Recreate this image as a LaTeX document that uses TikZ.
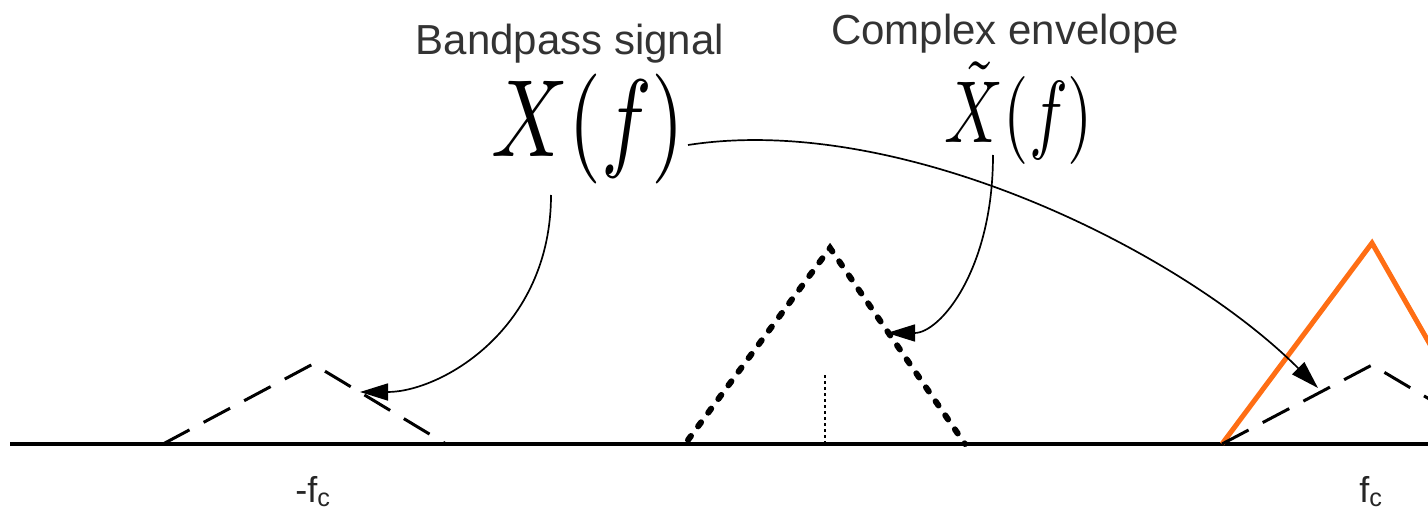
\documentclass[tikz,border=0pt]{standalone}
\usepackage{fontspec}
\setsansfont{Liberation Sans}
\usetikzlibrary{arrows.meta}
\definecolor{sigorange}{RGB}{255,110,20}
\tikzset{
  lbl/.style={font=\sffamily\fontsize{42}{48}\selectfont, text=black!80, inner sep=0pt, anchor=base},
  axlbl/.style={font=\sffamily\fontsize{36}{42}\selectfont, text=black!85, inner sep=0pt, anchor=base},
  mathlbl/.style={inner sep=0pt, anchor=base},
  conn/.style={line width=1.7pt, -{Triangle[length=28pt,width=17pt]}},
  axis/.style={line width=3.5pt},
  bpsig/.style={line width=3pt, dash pattern=on 30pt off 16pt},
  envsig/.style={line width=6pt, line cap=round, dash pattern=on 5pt off 12pt},
  carrier/.style={line width=5pt, sigorange},
}
\begin{document}
\begin{tikzpicture}[x=1pt,y=-1pt]
\useasboundingbox (0,0) rectangle (1428,516);
\begin{scope}
\clip (0,0) rectangle (1428,516);
% axis
\draw[axis] (10,444) -- (1428,444);
% left bandpass replica
\draw[bpsig] (163,444) -- (313,364) -- (446,444);
% complex envelope
\draw[envsig] (688,440) -- (830,248) -- (965,444);
\draw[line width=1.5pt, dash pattern=on 3pt off 3pt] (825,375) -- (825,444);
% orange and right bandpass replica
\draw[carrier] (1222,444) -- (1372,243) -- (1487,444);
\draw[bpsig] (1222,444) -- (1372,365) -- (1505,444);
\end{scope}
% labels
\node[lbl] (bp) at (570,55) {Bandpass signal};
\node[lbl] (ce) at (1005,45) {Complex envelope};
\node[mathlbl] (X) at (588,157) {\scalebox{8.5}[11]{$X(f)$}};
\node[mathlbl] (Xt) at (1019,143) {\scalebox{6.5}[8.8]{$\tilde{X}(f)$}};
\node[axlbl] (mfc) at (313,502) {-f\textsubscript{c}};
\node[axlbl] (fc) at (1371,502) {f\textsubscript{c}};
% connector end points
\coordinate (s1) at (551,195);
\coordinate (t1) at (360,392);
\coordinate (s2) at (993,155);
\coordinate (t2) at (887,333);
\coordinate (s3) at (688,145);
\coordinate (t3) at (1318,388);
\draw[conn] (s1) .. controls (551,330) and (440,392) .. (t1);
\draw[conn] (s2) .. controls (993,270) and (940,333) .. (t2);
\draw[conn] (s3) .. controls (900,112) and (1180,250) .. (t3);
\end{tikzpicture}
\end{document}
